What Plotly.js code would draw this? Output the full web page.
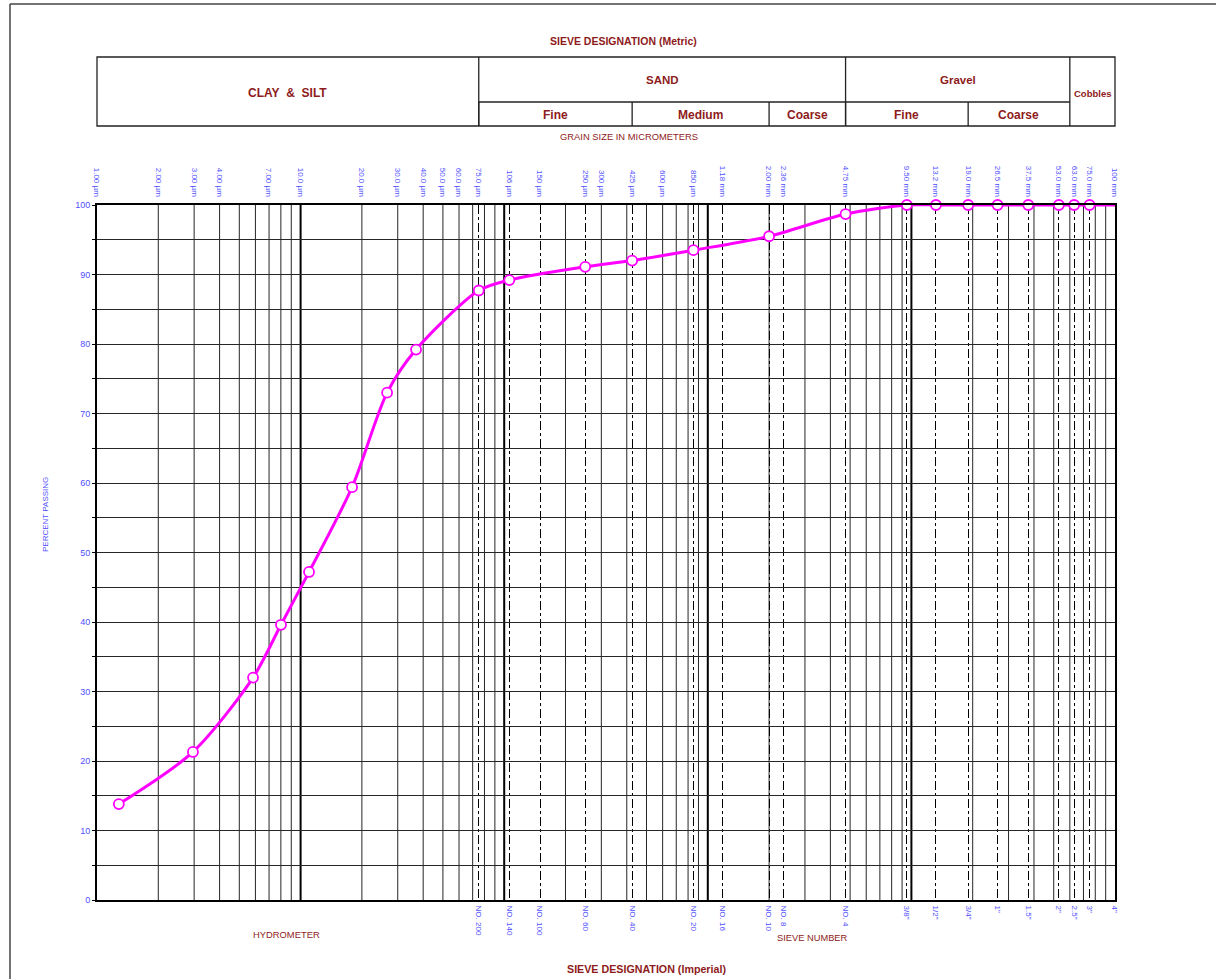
<!DOCTYPE html>
<html>
<head>
<meta charset="utf-8">
<script src="https://cdn.plot.ly/plotly-3.0.1.min.js"></script>
<style>
  html, body { margin: 0; padding: 0; background: #fff; }
  #chart { width: 1216px; height: 979px; }
</style>
</head>
<body>
<div id="chart"></div>
<script>
// Grain size distribution (sieve + hydrometer), grain size in micrometres
const grainSize = [1.28, 2.96, 5.84, 8.01, 11.0, 17.9, 26.6, 36.9, 75, 106, 250, 425, 850, 2000, 4750,
                   9500, 13200, 19000, 26500, 37500, 53000, 63000, 75000, 100000];
const percentPassing = [13.8, 21.3, 32.0, 39.6, 47.2, 59.4, 73.0, 79.2, 87.7, 89.2, 91.1, 92.0, 93.5, 95.5, 98.7,
                        100, 100, 100, 100, 100, 100, 100, 100, 100];

// Metric sieve sizes along the top (micrometres)
const metricSizes = [1, 2, 3, 4, 7, 10, 20, 30, 40, 50, 60, 75, 106, 150, 250, 300, 425, 600, 850, 1180,
                     2000, 2360, 4750, 9500, 13200, 19000, 26500, 37500, 53000, 63000, 75000, 100000];
const metricLabels = ['1.00 µm', '2.00 µm', '3.00 µm', '4.00 µm', '7.00 µm', '10.0 µm', '20.0 µm', '30.0 µm',
                      '40.0 µm', '50.0 µm', '60.0 µm', '75.0 µm', '106 µm', '150 µm', '250 µm', '300 µm',
                      '425 µm', '600 µm', '850 µm', '1.18 mm', '2.00 mm', '2.36 mm', '4.75 mm', '9.50 mm',
                      '13.2 mm', '19.0 mm', '26.5 mm', '37.5 mm', '53.0 mm', '63.0 mm', '75.0 mm', '100 mm'];

// Imperial sieve designations along the bottom (micrometres)
const sieveSizes = [75, 106, 150, 250, 425, 850, 1180, 2000, 2360, 4750, 9500, 13200, 19000, 26500, 37500,
                    53000, 63000, 75000, 100000];
const sieveLabels = ['NO. 200', 'NO. 140', 'NO. 100', 'NO. 60', 'NO. 40', 'NO. 20', 'NO. 16', 'NO. 10', 'NO. 8',
                     'NO. 4', '3/8"', '1/2"', '3/4"', '1"', '1.5"', '2"', '2.5"', '3"', '4"'];

// Soil classes: [label, lower size, upper size] in micrometres
const mainClasses = [['CLAY\u00a0 &\u00a0 SILT', 1, 75], ['SAND', 75, 4750], ['Gravel', 4750, 60000], ['Cobbles', 60000, 100000]];
const subClasses = [['Fine', 75, 425], ['Medium', 425, 2000], ['Coarse', 2000, 4750],
                    ['Fine', 4750, 19000], ['Coarse', 19000, 60000]];

const percentTicks = [0, 5, 10, 15, 20, 25, 30, 35, 40, 45, 50, 55, 60, 65, 70, 75, 80, 85, 90, 95, 100];

// ---- layout geometry ----
const W = 1216, H = 979;
const M = { l: 97, r: 101, t: 205, b: 79 };
const plotW = W - M.l - M.r, plotH = H - M.t - M.b;
const px = x => (x - M.l) / plotW;          // page x pixel -> paper
const py = y => (H - M.b - y) / plotH;      // page y pixel -> paper
const lg = Math.log10;

const RED = '#8e1b1b';
const BLUE = '#4f4fff';
const tickFamily = 'Liberation Sans Narrow, Liberation Sans, Arial, sans-serif';
const sans = 'Liberation Sans, Arial, sans-serif';

const shapes = [];
const annotations = [];

// log grid: minor lines (2..9 per decade) and heavier decade lines
for (let d = 0; d < 5; d++) {
  for (let k = 2; k <= 9; k++) {
    const v = k * Math.pow(10, d);
    shapes.push({ type: 'line', layer: 'below', xref: 'x', yref: 'paper', x0: v, x1: v, y0: 0, y1: 1,
      line: { color: '#262626', width: 1 } });
  }
  if (d > 0) {
    const v = Math.pow(10, d);
    shapes.push({ type: 'line', layer: 'below', xref: 'x', yref: 'paper', x0: v, x1: v, y0: 0, y1: 1,
      line: { color: '#000', width: 2 } });
  }
}

// classification header table
const boxTop = py(57), boxMid = py(102), boxBot = py(126);
const boxLine = { color: '#222', width: 1.3 };
shapes.push({ type: 'rect', xref: 'paper', yref: 'paper', x0: 0, x1: 1, y0: boxBot, y1: boxTop, line: boxLine });
mainClasses.forEach(([label, a, b], i) => {
  if (i > 0) {
    shapes.push({ type: 'line', xref: 'x', yref: 'paper', x0: a, x1: a, y0: boxBot, y1: boxTop, line: boxLine });
  }
  const hasSub = subClasses.some(s => s[1] >= a && s[2] <= b);
  annotations.push({ xref: 'x', yref: 'paper', x: (lg(a) + lg(b)) / 2, y: hasSub ? py(80) : py(93),
    xanchor: 'center', yanchor: 'middle',
    text: '<b>' + label + '</b>', showarrow: false,
    font: { family: sans, size: label === 'Cobbles' ? 9.5 : (hasSub ? 11.5 : 12), color: RED } });
});
shapes.push({ type: 'line', xref: 'x', yref: 'paper', x0: 75, x1: 60000, y0: boxMid, y1: boxMid, line: boxLine });
subClasses.forEach(([label, a, b]) => {
  shapes.push({ type: 'line', xref: 'x', yref: 'paper', x0: a, x1: a, y0: boxBot, y1: boxMid, line: boxLine });
  annotations.push({ xref: 'x', yref: 'paper', x: (lg(a) + lg(b)) / 2, y: py(115),
    xanchor: 'center', yanchor: 'middle',
    text: '<b>' + label + '</b>', showarrow: false, font: { family: sans, size: 12, color: RED } });
});

// page frame
shapes.push({ type: 'line', xref: 'paper', yref: 'paper', x0: px(10), x1: px(1300), y0: py(4), y1: py(4),
  line: { color: '#444', width: 1.5 } });
shapes.push({ type: 'line', xref: 'paper', yref: 'paper', x0: px(10), x1: px(10), y0: py(4), y1: py(1100),
  line: { color: '#444', width: 1.5 } });

// captions
const caption = (text, x, y, size, bold) => annotations.push({
  xref: 'paper', yref: 'paper', x: x, y: y, xanchor: 'center', yanchor: 'middle', showarrow: false,
  text: bold ? '<b>' + text + '</b>' : text, font: { family: sans, size: size, color: RED } });
caption('SIEVE DESIGNATION (Metric)', px(623), py(41), 10.5, true);
caption('GRAIN SIZE IN MICROMETERS', px(629), py(136), 9.4, false);
caption('HYDROMETER', px(286), py(935), 9.4, false);
caption('SIEVE NUMBER', px(812), py(938), 9.3, false);
caption('SIEVE DESIGNATION (Imperial)', px(646), py(969), 10.7, true);

annotations.push({ xref: 'paper', yref: 'paper', x: px(45), y: py(515), xanchor: 'center', yanchor: 'middle',
  showarrow: false, textangle: -90,
  text: 'PERCENT PASSING', font: { family: tickFamily, size: 8, color: BLUE } });

const n = grainSize.length;
const traces = [
  {
    x: grainSize, y: percentPassing, xaxis: 'x', yaxis: 'y',
    type: 'scatter', mode: 'lines+markers', cliponaxis: false,
    line: { color: '#ff00ff', width: 3, shape: 'spline', smoothing: 0.8 },
    marker: { symbol: 'circle', size: grainSize.map((_, i) => (i === n - 1 ? 0 : 10)), opacity: 1,
      color: 'rgb(255,255,255)', line: { color: '#ff00ff', width: 1.8 } },
    hoverinfo: 'x+y', showlegend: false
  },
  { x: [metricSizes[0]], y: [null], xaxis: 'x2', yaxis: 'y', type: 'scatter', mode: 'markers',
    showlegend: false, hoverinfo: 'skip' }
];

const tickFont = { family: tickFamily, size: 8, color: BLUE };
const layout = {
  width: W, height: H,
  margin: M,
  paper_bgcolor: '#fff', plot_bgcolor: '#fff',
  showlegend: false,
  xaxis: {
    type: 'log', range: [0, 5], fixedrange: true,
    tickmode: 'array', tickvals: sieveSizes, ticktext: sieveLabels, tickangle: 90,
    tickfont: tickFont, ticks: '', ticklabelstandoff: 2,
    showgrid: true, gridcolor: '#000', gridwidth: 1, griddash: 'dashdot',
    showline: true, linecolor: '#000', linewidth: 2, mirror: true, zeroline: false
  },
  xaxis2: {
    type: 'log', range: [0, 5], overlaying: 'x', side: 'top', anchor: 'y', fixedrange: true,
    tickmode: 'array', tickvals: metricSizes, ticktext: metricLabels, tickangle: 90,
    tickfont: tickFont, ticks: '', ticklabelstandoff: 6,
    showgrid: false, showline: false, zeroline: false
  },
  yaxis: {
    range: [0, 100], fixedrange: true,
    tickmode: 'array', tickvals: percentTicks,
    ticktext: percentTicks.map(v => (v % 10 === 0 ? String(v) : '')),
    tickfont: { family: tickFamily, size: 9, color: BLUE },
    ticks: 'outside', ticklen: 3, tickcolor: '#000', tickwidth: 1,
    showgrid: true, gridcolor: '#262626', gridwidth: 1,
    showline: true, linecolor: '#000', linewidth: 2, mirror: true, zeroline: false
  },
  shapes: shapes,
  annotations: annotations
};

Plotly.newPlot('chart', traces, layout, { displayModeBar: false, staticPlot: true });
</script>
</body>
</html>
